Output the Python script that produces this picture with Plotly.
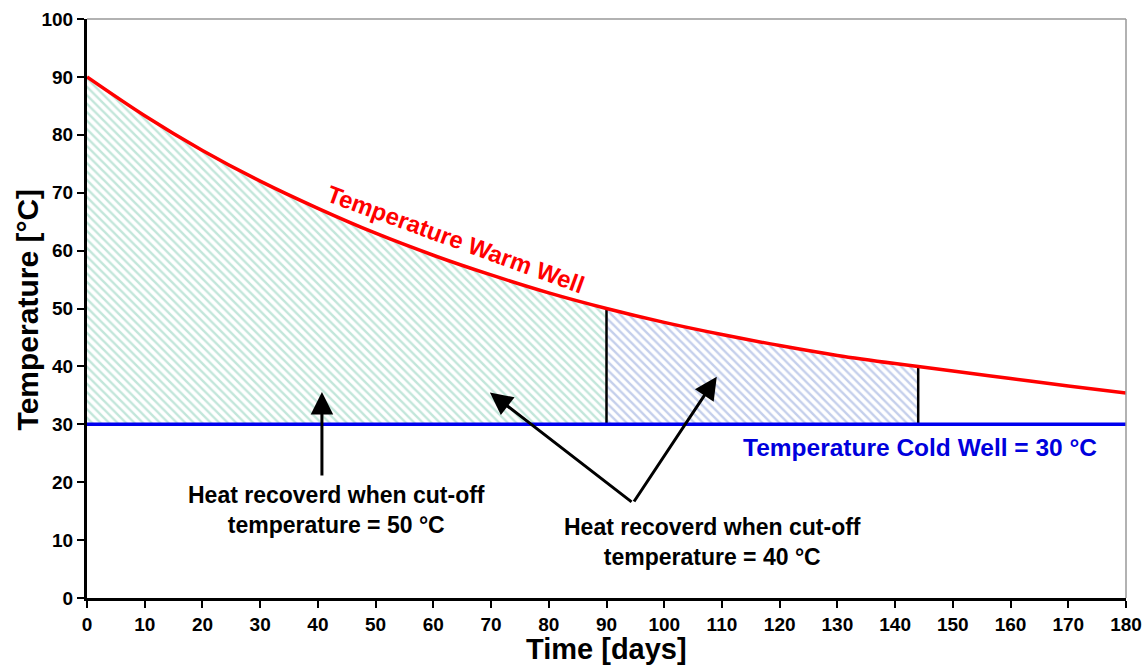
import plotly.graph_objects as go

# warm well temperature
days = [0, 10, 20, 30, 40, 50, 60, 70, 80, 90, 100, 110, 120, 130, 140, 144, 150, 160, 170, 180]
temp_warm = [90, 83.3, 77.3, 72.0, 67.3, 63.0, 59.2, 55.8, 52.7, 50.0, 47.6, 45.5, 43.6, 41.9, 40.5, 40.0, 39.2, 37.9, 36.6, 35.4]
temp_cold = 30
cutoff_days = [90, 144]

x_ticks = list(range(0, 181, 10))
y_ticks = list(range(0, 101, 10))

font_main = "Arial, Liberation Sans, sans-serif"

fig = go.Figure()


def area(x_from, x_to, color):
    xs = [d for d in days if x_from <= d <= x_to]
    ys = [t for d, t in zip(days, temp_warm) if x_from <= d <= x_to]
    fig.add_trace(go.Scatter(
        x=xs + xs[::-1], y=ys + [temp_cold] * len(xs),
        fill="toself", mode="none", fillcolor="rgba(0,0,0,0)",
        fillpattern=dict(shape="\\", fgcolor=color, bgcolor="white", size=6, solidity=0.4),
        hoverinfo="skip", showlegend=False,
    ))


area(0, cutoff_days[0], "#86cdb5")
area(cutoff_days[0], cutoff_days[1], "#8a9fd8")

# black borders at the cut-off days
for d in cutoff_days:
    fig.add_trace(go.Scatter(
        x=[d, d], y=[temp_cold, temp_warm[days.index(d)]], mode="lines",
        line=dict(color="black", width=2.5), showlegend=False, hoverinfo="skip",
    ))

fig.add_trace(go.Scatter(
    x=[0, 180], y=[temp_cold, temp_cold], mode="lines",
    line=dict(color="#0000ee", width=3.5), showlegend=False,
))
fig.add_trace(go.Scatter(
    x=days, y=temp_warm, mode="lines", line=dict(color="#ff0000", width=3.5, shape="spline"),
    showlegend=False,
))

bold = dict(family=font_main, weight="bold")
fig.add_annotation(x=64, y=62, text="Temperature Warm Well", showarrow=False,
                   textangle=20, font=dict(color="#ff0000", size=24, **bold))
fig.add_annotation(x=144.3, y=26, text="Temperature Cold Well = 30 °C", showarrow=False,
                   font=dict(color="#0000dd", size=24.5, **bold))
fig.add_annotation(x=43.3, y=15.2, text="Heat recoverd when cut-off<br>temperature = 50 °C",
                   showarrow=False, font=dict(color="black", size=23, **bold))
fig.add_annotation(x=108.3, y=9.6, text="Heat recoverd when cut-off<br>temperature = 40 °C",
                   showarrow=False, font=dict(color="black", size=23, **bold))

arrows = [((40.7, 20.9), (40.7, 35.6)), ((94.6, 16.4), (69.8, 35.5)), ((94.6, 16.4), (109.1, 38.2))]
for (tx, ty), (hx, hy) in arrows:
    fig.add_annotation(x=hx, y=hy, ax=tx, ay=ty, xref="x", yref="y", axref="x", ayref="y",
                       text="", showarrow=True, arrowhead=2, arrowsize=1.5, arrowwidth=3,
                       arrowcolor="black", standoff=0)

# axis titles
fig.add_annotation(x=0.5, y=-0.088, xref="paper", yref="paper", text="Time [days]",
                   showarrow=False, yanchor="middle",
                   font=dict(size=29, color="black", **bold))
fig.add_annotation(x=-0.057, y=0.498, xref="paper", yref="paper", text="Temperature [°C]",
                   showarrow=False, textangle=-90, xanchor="center",
                   font=dict(size=30, color="black", **bold))

# grey frame on top and right
fig.add_shape(type="line", xref="paper", yref="paper", x0=0, x1=1, y0=1, y1=1,
              line=dict(color="#999999", width=1.5))
fig.add_shape(type="line", xref="paper", yref="paper", x0=1, x1=1, y0=0, y1=1,
              line=dict(color="#999999", width=1.5))

fig.update_xaxes(range=[0, 180], tickvals=x_ticks, showgrid=False, zeroline=False,
                 showline=True, linecolor="black", linewidth=3, ticks="outside",
                 tickwidth=2, ticklen=7, tickcolor="black", automargin=False,
                 tickfont=dict(size=19, color="black", **bold))
fig.update_yaxes(range=[0, 100], tickvals=y_ticks, showgrid=False, zeroline=False,
                 showline=True, linecolor="black", linewidth=3, ticks="outside",
                 tickwidth=2, ticklen=7, tickcolor="black", automargin=False,
                 tickfont=dict(size=19, color="black", **bold))
fig.update_layout(width=1146, height=668, plot_bgcolor="white", paper_bgcolor="white",
                  margin=dict(l=87, r=20, t=19, b=70))

fig.write_html("out.html", config={"displayModeBar": False},
               post_script="document.body.style.margin='0';")
